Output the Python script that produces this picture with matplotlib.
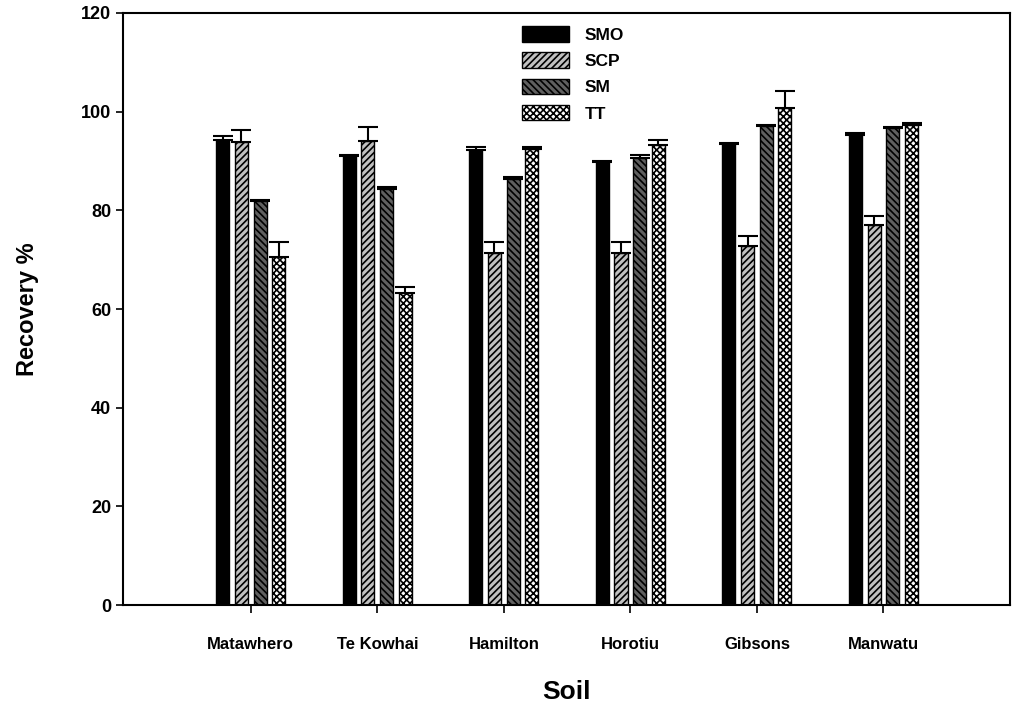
import numpy as np
import matplotlib
matplotlib.use("Agg")
import matplotlib.pyplot as plt

plt.rcParams['font.family'] = ['Liberation Sans', 'DejaVu Sans']
plt.rcParams['hatch.linewidth'] = 1.2

soils = ["Matawhero", "Te Kowhai", "Hamilton", "Horotiu", "Gibsons", "Manwatu"]
methods = ["SMO", "SCP", "SM", "TT"]

smo = [94.3, 91.0, 92.2, 89.9, 93.4, 95.3]
scp = [93.8, 94.0, 71.3, 71.4, 72.8, 77.0]
sm = [81.8, 84.3, 86.3, 90.7, 97.0, 96.6]
tt = [70.5, 63.2, 92.4, 93.3, 100.8, 97.3]

smo_err = [0.7, 0.3, 0.6, 0.2, 0.3, 0.3]
scp_err = [2.5, 2.9, 2.3, 2.1, 2.1, 1.8]
sm_err = [0.2, 0.4, 0.4, 0.5, 0.2, 0.3]
tt_err = [3.1, 1.2, 0.5, 1.0, 3.4, 0.5]

values = [smo, scp, sm, tt]
errors = [smo_err, scp_err, sm_err, tt_err]
colors = ["black", "#c0c0c0", "#606060", "white"]
hatches = [None, "/////", "\\\\\\\\\\", "xxxxx"]

fig = plt.figure(figsize=(10.14, 7.02), dpi=100)
ax = fig.add_axes([0.1213, 0.138, 0.8747, 0.8435])

x = np.arange(len(soils))
step = 0.148
width = 0.103
offsets = [-1.5 * step, -0.5 * step, 0.5 * step, 1.5 * step]

for vals, errs, col, h, off, name in zip(values, errors, colors, hatches, offsets, methods):
    ax.bar(x + off, vals, width=width, color=col, edgecolor="black",
           linewidth=1.0, hatch=h, label=name, zorder=2)
    # only the upper half of each error bar is drawn
    ax.errorbar(x + off, vals, yerr=[np.zeros(len(errs)), errs], fmt="none",
                ecolor="black", elinewidth=1.5, capsize=7, capthick=1.5, zorder=3)

ax.set_xlim(-1.01, 6.0)
ax.set_ylim(0, 120)
ax.set_xticks(x)
ax.set_xticklabels(soils, fontsize=12, fontweight="bold")
ax.set_yticks(np.arange(0, 121, 20))
ax.tick_params(axis="y", labelsize=13, direction="out", length=5, width=1.2)
ax.tick_params(axis="x", direction="out", length=6, width=1.2, pad=17)
for lbl in ax.get_yticklabels():
    lbl.set_fontweight("bold")
for sp in ax.spines.values():
    sp.set_linewidth(1.5)

ax.set_xlabel("Soil", fontsize=19, fontweight="bold", labelpad=20)
ax.set_ylabel("Recovery %", fontsize=17, fontweight="bold", labelpad=30)

leg = ax.legend(loc="upper left", bbox_to_anchor=(522 / 1014, 1 - 26 / 702),
                bbox_transform=fig.transFigure, frameon=False, fontsize=12.5,
                handlelength=2.7, handleheight=1.0, labelspacing=0.55,
                handletextpad=0.9, borderpad=0, borderaxespad=0)
for t in leg.get_texts():
    t.set_fontweight("bold")

fig.savefig("out.png", dpi=100)
